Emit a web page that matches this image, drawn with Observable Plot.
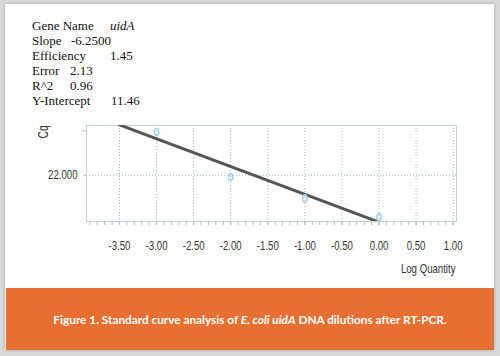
<!DOCTYPE html>
<html>
<head>
<meta charset="utf-8">
<script src="https://cdn.jsdelivr.net/npm/d3@7"></script>
<script src="https://cdn.jsdelivr.net/npm/@observablehq/plot@0.6"></script>
<style>
  html, body { margin: 0; padding: 0; }
  body { width: 500px; height: 356px; background: #d9d9d9; position: relative; overflow: hidden; }
  #card { position: absolute; left: 5px; top: 4px; width: 489px; height: 346px; background: #fff;
          box-shadow: 0 0 3px rgba(0,0,0,0.25); }
  #stats { position: absolute; left: 32px; top: 18px; font-family: "Liberation Serif", "Times New Roman", serif;
           font-size: 13px; line-height: 15px; color: #111; }
  #stats div { position: relative; white-space: pre; height: 15px; }
  #stats .v { position: absolute; top: 0; }
  #chart { position: absolute; left: 0; top: 100px; }
  #caption { position: absolute; left: 6px; top: 288px; width: 488px; height: 62px; background: #e86f32;
             color: #fff; font-family: Lato, "Open Sans", sans-serif; font-weight: bold; font-size: 11.8px;
             display: flex; align-items: center; justify-content: center; }
</style>
</head>
<body>
<div id="card"></div>
<div id="stats"></div>
<div id="chart"></div>
<div id="caption"><span>Figure 1. Standard curve analysis of <i>E. coli uidA</i> DNA dilutions after RT-PCR.</span></div>
<script>
// Stats block
const statLabels = ["Gene Name", "Slope", "Efficiency", "Error", "R^2", "Y-Intercept"];
const statValues = ["uidA", "-6.2500", "1.45", "2.13", "0.96", "11.46"];

// Standard points (log quantity, Cq)
const logQty = [-3, -2, -1, 0];
const cqVals = [31.7, 21.6, 16.8, 12.6];

// Fit line
const slope = -6.25;
const intercept = 11.46;
const fitX = [-3.5, 0];

// Axis ticks
const xTicks = [-3.5, -3, -2.5, -2, -1.5, -1, -0.5, 0, 0.5, 1];
const xTickLabels = ["-3.50", "-3.00", "-2.50", "-2.00", "-1.50", "-1.00", "-0.50", "0.00", "0.50", "1.00"];
const xMinorTicks = d3.range(-39, 11).map(d => d / 10);
const yTicks = [22, 32];
const yTickLabels = ["22.000", ""];
const yGrid = [22];

// layout of the stats value column (px from block's left)
const statValueLeft = [78, 39, 78, 38, 38, 79];

const statsEl = document.getElementById("stats");
statLabels.forEach((l, i) => {
  const div = document.createElement("div");
  div.textContent = l;
  const v = document.createElement(i === 0 ? "i" : "span");
  v.className = "v";
  v.style.left = statValueLeft[i] + "px";
  v.textContent = statValues[i];
  div.appendChild(v);
  statsEl.appendChild(div);
});

const points = logQty.map((x, i) => ({x, y: cqVals[i]}));
const fit = fitX.map(x => ({x, y: intercept + slope * x}));

const ellipse = {
  draw(context, size) {
    const rx = 2.2, ry = 3.6;
    const k = 0.5523;
    context.moveTo(rx, 0);
    context.bezierCurveTo(rx, ry * k, rx * k, ry, 0, ry);
    context.bezierCurveTo(-rx * k, ry, -rx, ry * k, -rx, 0);
    context.bezierCurveTo(-rx, -ry * k, -rx * k, -ry, 0, -ry);
    context.bezierCurveTo(rx * k, -ry, rx, -ry * k, rx, 0);
    context.closePath();
  }
};

const font = '"Liberation Sans", Arial, sans-serif';

const chart = Plot.plot({
  width: 500,
  height: 180,
  marginLeft: 86,
  marginRight: 44,
  marginTop: 25,
  marginBottom: 59,
  x: {domain: [-3.945, 1.045]},
  y: {domain: [11.6, 33.2]},
  style: {fontFamily: font, fontSize: "13px", color: "#333", background: "transparent", overflow: "visible"},
  marks: [
    Plot.gridX(xTicks, {stroke: "#aab4c2", strokeOpacity: 1, strokeDasharray: "1,2"}),
    Plot.gridY(yGrid, {stroke: "#aab4c2", strokeOpacity: 1, strokeDasharray: "1,2"}),
    Plot.frame({stroke: "#c8cdd6"}),
    Plot.axisX(xMinorTicks, {tickSize: 4, stroke: "#b5bcc6", tickFormat: () => "", label: null}),
    Plot.axisX(xTicks, {tickSize: 4, stroke: "#b5bcc6", tickPadding: 15, label: null,
      tickFormat: d => xTickLabels[xTicks.indexOf(d)]}),
    Plot.axisY(yTicks, {tickSize: 3, stroke: "#b5bcc6", tickPadding: 6, label: null,
      tickFormat: d => yTickLabels[yTicks.indexOf(d)]}),
    Plot.text(["Log Quantity"], {text: d => d, frameAnchor: "bottom-right", textAnchor: "end", dx: -1, dy: 47, lineAnchor: "middle"}),
    Plot.text(["Cq"], {text: d => d, frameAnchor: "top-left", dx: -43, dy: 13, rotate: -90, lineAnchor: "middle", fontSize: 14}),
    Plot.line(fit, {x: "x", y: "y", stroke: "#555", strokeWidth: 3, clip: true}),
    Plot.dot(points, {x: "x", y: "y", symbol: ellipse, stroke: "#a6d0ee", strokeWidth: 1.5, fill: "none"})
  ]
});
document.getElementById("chart").appendChild(chart);

// condense the chart's text (reference uses a narrow typeface)
chart.querySelectorAll("text").forEach(t => {
  if (!t.textContent) return;
  const len = t.getComputedTextLength();
  if (len > 0) {
    t.setAttribute("textLength", (len * 0.74).toFixed(1));
    t.setAttribute("lengthAdjust", "spacingAndGlyphs");
  }
});
</script>
</body>
</html>
